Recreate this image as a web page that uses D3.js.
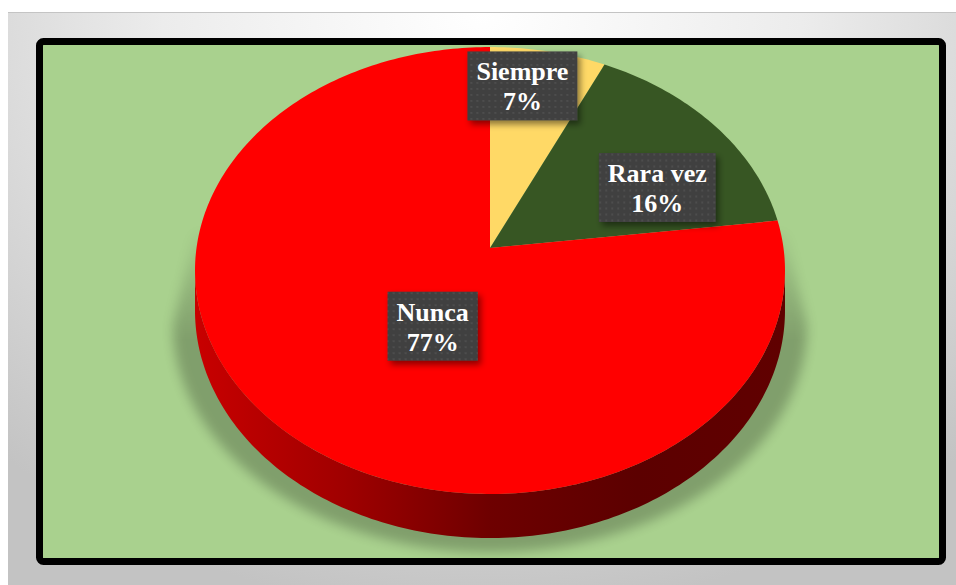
<!DOCTYPE html>
<html>
<head>
<meta charset="utf-8">
<script src="https://cdn.jsdelivr.net/npm/d3@7/dist/d3.min.js"></script>
<style>
  html, body { margin: 0; padding: 0; background: #fff; }
  svg { display: block; }
</style>
</head>
<body>
<div id="chart"></div>
<script>
// data
var categories = ['Siempre', 'Rara vez', 'Nunca'];
var values = [7, 16, 77];
var labels = ['7%', '16%', '77%'];
var colors = ['#ffd966', '#375623', '#ff0000'];

// where each label box sits: fraction of the slice angle, fraction of radius
var labelAngleFrac = [0.34, 0.68, 0.455];
var labelRadius = [0.8, 0.65, 0.39];

var W = 956, H = 585;
var CX = 490, CY = 248;      // apex of the pie on screen
var A = 293.5, B = 221.2;    // half axes before perspective
var K = 0.1007;              // perspective strength
var DEPTH = 39.6;

var svg = d3.select('#chart').append('svg')
    .attr('width', W).attr('height', H);
var defs = svg.append('defs');

// outer gray panel
var rg = defs.append('radialGradient').attr('id', 'panelGrad')
    .attr('cx', '50%').attr('cy', '0%').attr('r', '75%')
    .attr('gradientTransform', 'translate(0.5,0) scale(1,1.4) translate(-0.5,0)');
rg.append('stop').attr('offset', '0%').attr('stop-color', '#ffffff');
rg.append('stop').attr('offset', '45%').attr('stop-color', '#ececec');
rg.append('stop').attr('offset', '100%').attr('stop-color', '#c3c3c3');

svg.append('rect').attr('x', 8).attr('y', 12).attr('width', W - 8).attr('height', H - 12)
    .attr('fill', 'url(#panelGrad)');
svg.append('line').attr('x1', 8).attr('x2', W).attr('y1', 12.5).attr('y2', 12.5)
    .attr('stroke', '#c4c4c4').attr('stroke-width', 1);

// frame
svg.append('rect').attr('x', 39.5).attr('y', 41.5).attr('width', 903).attr('height', 520)
    .attr('rx', 4).attr('fill', '#a9d18e').attr('stroke', '#000').attr('stroke-width', 7);

// clip everything inside the green area
defs.append('clipPath').attr('id', 'plotClip').append('rect')
    .attr('x', 43).attr('y', 45).attr('width', 896).attr('height', 513);

// perspective projection of a point on the disc
function proj(theta, r, drop) {
    var u = r * Math.sin(theta), v = -r * Math.cos(theta);
    var w = 1 - K * v;
    return [CX + A * u / w, CY + (B * v + (drop || 0)) / w];
}
function arcPts(a0, a1, r, drop) {
    var n = Math.max(2, Math.ceil(Math.abs(a1 - a0) / (Math.PI / 180)));
    return d3.range(n + 1).map(function (i) { return proj(a0 + (a1 - a0) * i / n, r, drop); });
}
var line = d3.line().curve(d3.curveLinear);

var pie = d3.pie().sort(null).value(function (d) { return d; })
    .startAngle(0).endAngle(2 * Math.PI);
var arcs = pie(values);

var g = svg.append('g').attr('clip-path', 'url(#plotClip)');

var vis0 = Math.acos(-K), vis1 = 2 * Math.PI - Math.acos(-K);

// soft shadow under the pie, widening towards the bottom
var shf = defs.append('filter').attr('id', 'shBlur')
    .attr('x', '-20%').attr('y', '-20%').attr('width', '140%').attr('height', '140%');
shf.append('feGaussianBlur').attr('stdDeviation', 6);
var mg = defs.append('linearGradient').attr('id', 'shMaskGrad')
    .attr('gradientUnits', 'userSpaceOnUse').attr('x1', 0).attr('x2', 0).attr('y1', 220).attr('y2', 340);
mg.append('stop').attr('offset', '0%').attr('stop-color', '#000');
mg.append('stop').attr('offset', '100%').attr('stop-color', '#fff');
defs.append('mask').attr('id', 'shMask').append('rect')
    .attr('x', 0).attr('y', 0).attr('width', W).attr('height', H).attr('fill', 'url(#shMaskGrad)');
var shPts = [proj(vis0, 1, -40)]
    .concat(arcPts(vis0, vis1, 1, DEPTH).map(function (p) {
        return [CX + (p[0] - CX) * 1.075, p[1] + 14];
    }))
    .concat([proj(vis1, 1, -40)]);
g.append('g').attr('mask', 'url(#shMask)')
    .append('path')
    .attr('d', line(shPts) + 'Z')
    .attr('fill', '#000').attr('opacity', 0.24)
    .attr('filter', 'url(#shBlur)');

// side wall
var sideGrad = defs.append('linearGradient').attr('id', 'sideGrad')
    .attr('gradientUnits', 'userSpaceOnUse').attr('x1', CX - A).attr('x2', CX + A).attr('y1', 0).attr('y2', 0);
[['0%', '#c80000'], ['25%', '#a00000'], ['50%', '#6e0000'], ['75%', '#5c0000'], ['100%', '#600000']]
    .forEach(function (s) { sideGrad.append('stop').attr('offset', s[0]).attr('stop-color', s[1]); });

arcs.forEach(function (d, i) {
    var a0 = Math.max(d.startAngle, vis0), a1 = Math.min(d.endAngle, vis1);
    if (a1 <= a0) return;
    var pts = arcPts(a0, a1, 1, 0).concat(arcPts(a1, a0, 1, DEPTH));
    g.append('path').attr('d', line(pts) + 'Z')
        .attr('fill', i === 2 ? 'url(#sideGrad)' : d3.color(colors[i]).darker(1.2));
});

// top face
arcs.forEach(function (d, i) {
    var pts = [proj(0, 0)].concat(arcPts(d.startAngle, d.endAngle, 1, 0));
    g.append('path').attr('d', line(pts) + 'Z')
        .attr('fill', colors[i]);
});

// label boxes
var pat = defs.append('pattern').attr('id', 'dots').attr('patternUnits', 'userSpaceOnUse')
    .attr('width', 6).attr('height', 6);
pat.append('rect').attr('width', 6).attr('height', 6).attr('fill', '#404040');
pat.append('circle').attr('cx', 3).attr('cy', 3).attr('r', 0.9).attr('fill', '#535353');

var bsf = defs.append('filter').attr('id', 'boxShadow')
    .attr('x', '-20%').attr('y', '-20%').attr('width', '150%').attr('height', '150%');
bsf.append('feDropShadow').attr('dx', 3).attr('dy', 4).attr('stdDeviation', 3)
    .attr('flood-color', '#000').attr('flood-opacity', 0.45);

arcs.forEach(function (d, i) {
    var th = d.startAngle + (d.endAngle - d.startAngle) * labelAngleFrac[i];
    var p = proj(th, labelRadius[i], 0);
    var lg = svg.append('g').attr('transform', 'translate(' + p[0] + ',' + p[1] + ')');
    var box = lg.append('rect').attr('fill', 'url(#dots)').attr('filter', 'url(#boxShadow)');
    var t = lg.append('text')
        .attr('text-anchor', 'middle')
        .attr('font-family', '"Liberation Serif", "Times New Roman", serif')
        .attr('font-weight', 'bold').attr('font-size', 26).attr('fill', '#fff');
    t.append('tspan').attr('x', 0).attr('y', -5.5).text(categories[i]);
    t.append('tspan').attr('x', 0).attr('y', 24.5).text(labels[i]);
    var bw = t.node().getBBox().width + 18;
    box.attr('x', -bw / 2).attr('y', -34.5).attr('width', bw).attr('height', 69);
});
</script>
</body>
</html>
